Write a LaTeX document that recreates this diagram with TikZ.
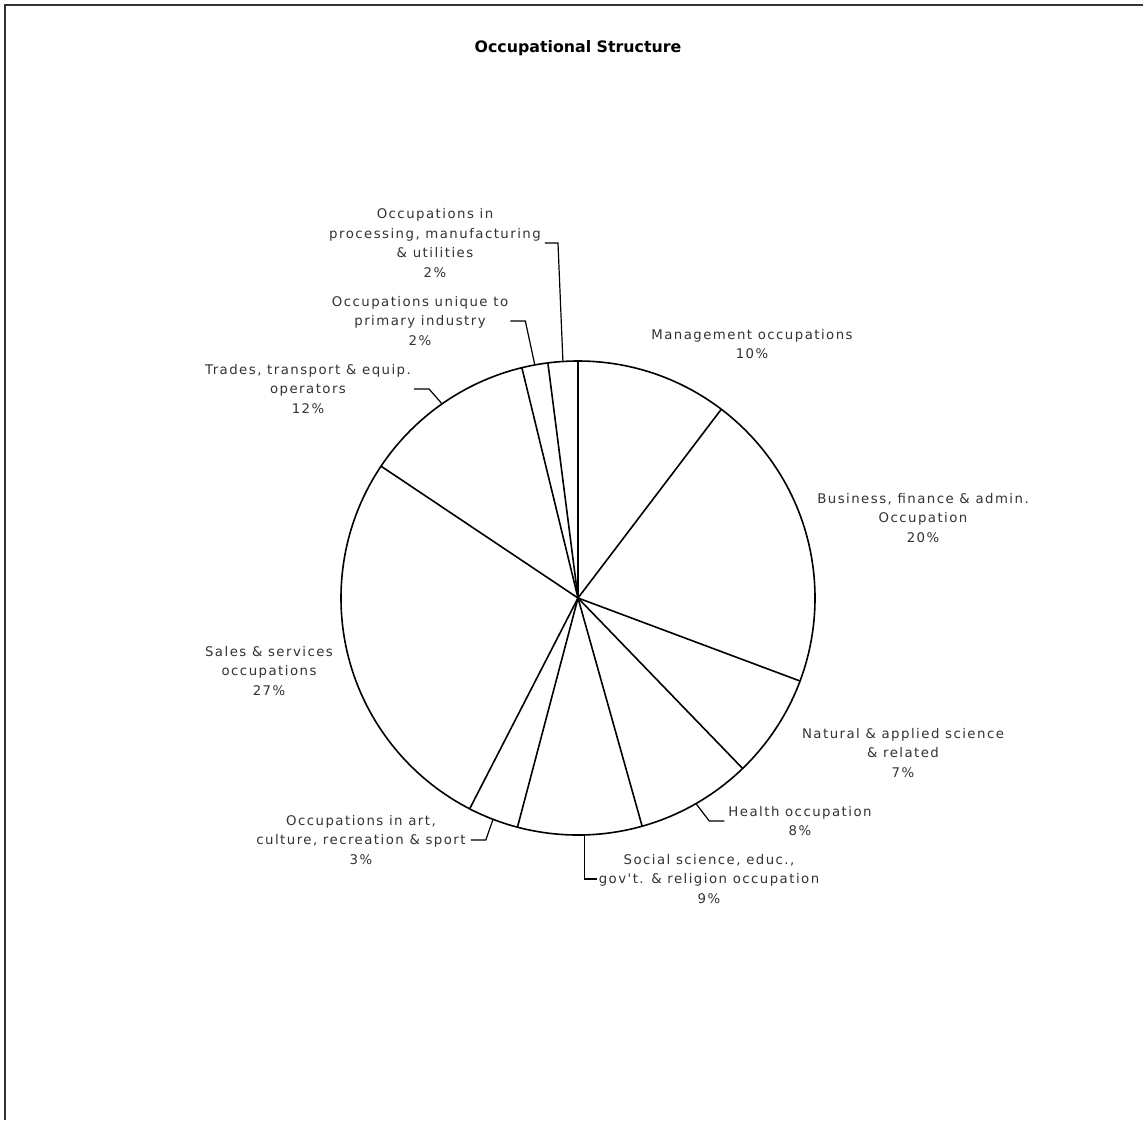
\documentclass[tikz,border=0pt]{standalone}
\usepackage{fontspec}
\usetikzlibrary{calc}
\newfontfamily\lblfont[LetterSpace=11]{DejaVu Sans}
\newfontfamily\ttlfont{DejaVu Sans}
\definecolor{txt}{HTML}{333333}
\begin{document}
\begin{tikzpicture}[x=1pt,y=-1pt,
  lbl/.style={align=center, inner sep=0pt, text=txt, font={\lblfont\fontsize{13.3}{19.5}\selectfont}},
  piel/.style={line width=1.6pt, black},
  lead/.style={line width=1.2pt, black}]
\useasboundingbox (0,0) rectangle (1143,1120);
\fill[white] (0,0) rectangle (1143,1120);
\draw[line width=1.6pt, black!80] (5,1120) -- (5,5) -- (1143,5);

\node[font={\ttlfont\bfseries\fontsize{15.8}{18}\selectfont}, inner sep=0pt] (title) at (578,48) {Occupational Structure};

\coordinate (C) at (578,598);
\draw[piel] (C) circle[radius=237pt];
\foreach \a in {90,52.8,-20.5,-46,-74.3,-104.8,-117.2,146.2,103.7,97.3}
  \draw[piel] (C) -- ++({237*cos(\a)},{-237*sin(\a)});

\coordinate (pproc) at ($(C)+({237*cos(93.65)},{-237*sin(93.65)})$);
\coordinate (pprim) at ($(C)+({237*cos(100.5)},{-237*sin(100.5)})$);
\coordinate (ptrades) at ($(C)+({237*cos(125)},{-237*sin(125)})$);
\coordinate (phealth) at ($(C)+({237*cos(-60.15)},{-237*sin(-60.15)})$);
\coordinate (psocial) at ($(C)+({237*cos(-88.5)},{-237*sin(-88.5)})$);
\coordinate (part) at ($(C)+({237*cos(-111)},{-237*sin(-111)})$);

\node[lbl] (mgmt) at (752,344) {Management occupations\\10\%};
\node[lbl] (bus) at (923,518) {Business, finance \& admin.\\Occupation\\20\%};
\node[lbl] (nat) at (903,753) {Natural \& applied science\\\& related\\7\%};
\node[lbl] (health) at (800,821) {Health occupation\\8\%};
\node[lbl] (social) at (709,879) {Social science, educ.,\\gov't. \& religion occupation\\9\%};
\node[lbl] (art) at (361,840) {Occupations in art,\\culture, recreation \& sport\\3\%};
\node[lbl] (sales) at (269,671) {Sales \& services\\occupations\\27\%};
\node[lbl] (trades) at (308,389) {Trades, transport \& equip.\\operators\\12\%};
\node[lbl] (prim) at (420,321) {Occupations unique to\\primary industry\\2\%};
\node[lbl] (proc) at (435,243) {Occupations in\\processing, manufacturing\\\& utilities\\2\%};

\draw[lead] ([xshift=4pt]proc.east) -- ++(13,0) -- (pproc);
\draw[lead] ([xshift=2pt]prim.east) -- ++(15,0) -- (pprim);
\draw[lead] ([xshift=3pt]trades.east) -- ++(15,0) -- (ptrades);
\draw[lead] ([xshift=-4pt]health.west) -- ++(-15,0) -- (phealth);
\draw[lead] ([xshift=-2pt]social.west) -| (psocial);
\draw[lead] ([xshift=5pt]art.east) -- ++(15,0) -- (part);
\end{tikzpicture}
\end{document}
